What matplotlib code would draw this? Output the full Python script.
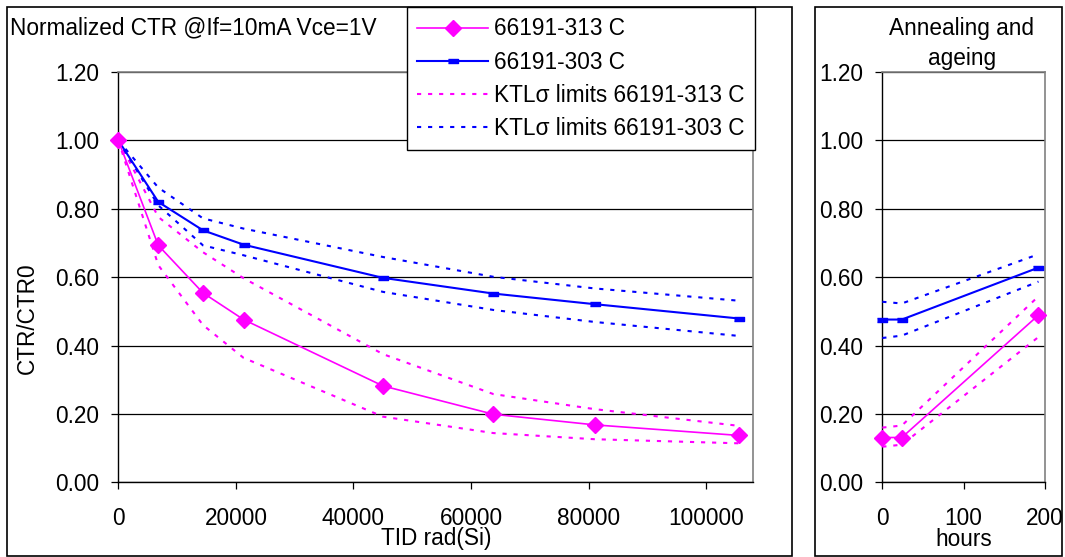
import matplotlib
matplotlib.use("Agg")
import matplotlib.pyplot as plt
from matplotlib.patches import Rectangle

# ---- data ----
tid = [0, 6800, 14400, 21300, 45000, 63800, 81000, 105600]
ctr_313 = [1.00, 0.693, 0.554, 0.476, 0.282, 0.199, 0.168, 0.137]
ctr_303 = [1.00, 0.820, 0.737, 0.695, 0.598, 0.552, 0.521, 0.479]
ktl_313_hi = [1.00, 0.776, 0.673, 0.597, 0.375, 0.258, 0.214, 0.165]
ktl_313_lo = [1.00, 0.635, 0.460, 0.364, 0.192, 0.144, 0.126, 0.114]
ktl_303_hi = [1.00, 0.862, 0.772, 0.742, 0.659, 0.601, 0.567, 0.531]
ktl_303_lo = [1.00, 0.810, 0.693, 0.664, 0.557, 0.504, 0.469, 0.428]

hours = [0, 24, 192]
ann_313 = [0.131, 0.131, 0.489]
ann_303 = [0.476, 0.476, 0.628]
ann_313_hi = [0.160, 0.166, 0.544]
ann_313_lo = [0.104, 0.110, 0.425]
ann_303_hi = [0.528, 0.523, 0.667]
ann_303_lo = [0.422, 0.429, 0.587]

labels = ["66191-313 C", "66191-303 C", "KTL\u03c3 limits 66191-313 C", "KTL\u03c3 limits 66191-303 C"]
yticks = [0.0, 0.2, 0.4, 0.6, 0.8, 1.0, 1.2]
xticks_left = [0, 20000, 40000, 60000, 80000, 100000]
xticks_right = [0, 100, 200]

MAG = "#FF00FF"
BLU = "#0000FF"
FS = 16.3

plt.rcParams['font.family'] = ['Liberation Sans', 'DejaVu Sans']
plt.rcParams['font.size'] = FS

W, H = 1065, 557
fig = plt.figure(figsize=(W / 100, H / 100), dpi=100)

def fx(px):
    return px / W

def fy(py):
    return 1 - py / H

# outer chart borders
fig.patches.append(Rectangle((fx(7.3), fy(555.7)), fx(792.3) - fx(7.3), fy(7.3) - fy(555.7),
                             transform=fig.transFigure, fill=False, edgecolor='black', lw=1.2))
fig.patches.append(Rectangle((fx(815), fy(555.7)), fx(1062) - fx(815), fy(7.3) - fy(555.7),
                             transform=fig.transFigure, fill=False, edgecolor='black', lw=1.2))

bottom = fy(482.3)
top = fy(72)
axL = fig.add_axes([fx(118.3), bottom, fx(753.3) - fx(118.3), top - bottom])
axR = fig.add_axes([fx(882.3), bottom, fx(1045) - fx(882.3), top - bottom])

dash_marker = [(-1, -0.35), (1, -0.35), (1, 0.35), (-1, 0.35)]
dots = (0, (2, 3.3))

def style(ax, xlim, xticks):
    ax.set_xlim(*xlim)
    ax.set_ylim(0, 1.2)
    ax.set_yticks(yticks)
    ax.set_yticklabels([f"{v:.2f}" for v in yticks])
    ax.set_xticks(xticks)
    ax.set_xticklabels([str(v) for v in xticks])
    ax.grid(axis='y', color='black', lw=0.9)
    ax.set_axisbelow(True)
    for s in ['top', 'right']:
        ax.spines[s].set_color('#808080')
        ax.spines[s].set_linewidth(1.2)
    for s in ['left', 'bottom']:
        ax.spines[s].set_color('black')
        ax.spines[s].set_linewidth(1.0)
    ax.tick_params(axis='both', direction='out', length=5, width=0.9, labelsize=FS)
    ax.tick_params(axis='y', pad=8.5)
    ax.tick_params(axis='x', pad=12.5)

# left panel
l1, = axL.plot(tid, ctr_313, color=MAG, lw=1.2, marker='D', markersize=8, zorder=5, clip_on=False)
l2, = axL.plot(tid, ctr_303, color=BLU, lw=1.5, marker=dash_marker, markersize=7, zorder=4, clip_on=False)
l3, = axL.plot(tid, ktl_313_hi, color=MAG, lw=1.5, linestyle=dots, zorder=3)
axL.plot(tid, ktl_313_lo, color=MAG, lw=1.5, linestyle=dots, zorder=3)
l4, = axL.plot(tid, ktl_303_hi, color=BLU, lw=1.5, linestyle=dots, zorder=3)
axL.plot(tid, ktl_303_lo, color=BLU, lw=1.5, linestyle=dots, zorder=3)
style(axL, (0, 108000), xticks_left)

# right panel
axR.plot(hours, ann_313, color=MAG, lw=1.2, marker='D', markersize=8, zorder=5, clip_on=False)
axR.plot(hours, ann_303, color=BLU, lw=1.5, marker=dash_marker, markersize=7, zorder=4, clip_on=False)
axR.plot(hours, ann_313_hi, color=MAG, lw=1.5, linestyle=dots, zorder=3)
axR.plot(hours, ann_313_lo, color=MAG, lw=1.5, linestyle=dots, zorder=3)
axR.plot(hours, ann_303_hi, color=BLU, lw=1.5, linestyle=dots, zorder=3)
axR.plot(hours, ann_303_lo, color=BLU, lw=1.5, linestyle=dots, zorder=3)
style(axR, (0, 200), xticks_right)

# texts
fig.text(fx(10.5), fy(28), "Normalized CTR @If=10mA Vce=1V", ha='left', va='center', fontsize=FS)
fig.text(fx(27), fy(318), "CTR/CTR0", rotation=90, ha='center', va='center', fontsize=FS)
fig.text(fx(436), fy(539), "TID rad(Si)", ha='center', va='center', fontsize=FS)
fig.text(fx(963.3), fy(539), "hours", ha='center', va='center', fontsize=FS)
fig.text(fx(961.7), fy(28.3), "Annealing and", ha='center', va='center', fontsize=FS)
fig.text(fx(961.7), fy(58.3), "ageing", ha='center', va='center', fontsize=FS)

leg = fig.legend([l1, l2, l3, l4], labels, loc='upper left',
                 bbox_to_anchor=(fx(407.3), fy(7.3)), bbox_transform=fig.transFigure,
                 borderaxespad=0, frameon=True, fancybox=False, framealpha=1,
                 edgecolor='black', handlelength=3.1, handletextpad=0.3,
                 borderpad=0.45, labelspacing=0.45, fontsize=FS)
leg.get_frame().set_linewidth(1.0)

fig.savefig("out.png", dpi=100)
